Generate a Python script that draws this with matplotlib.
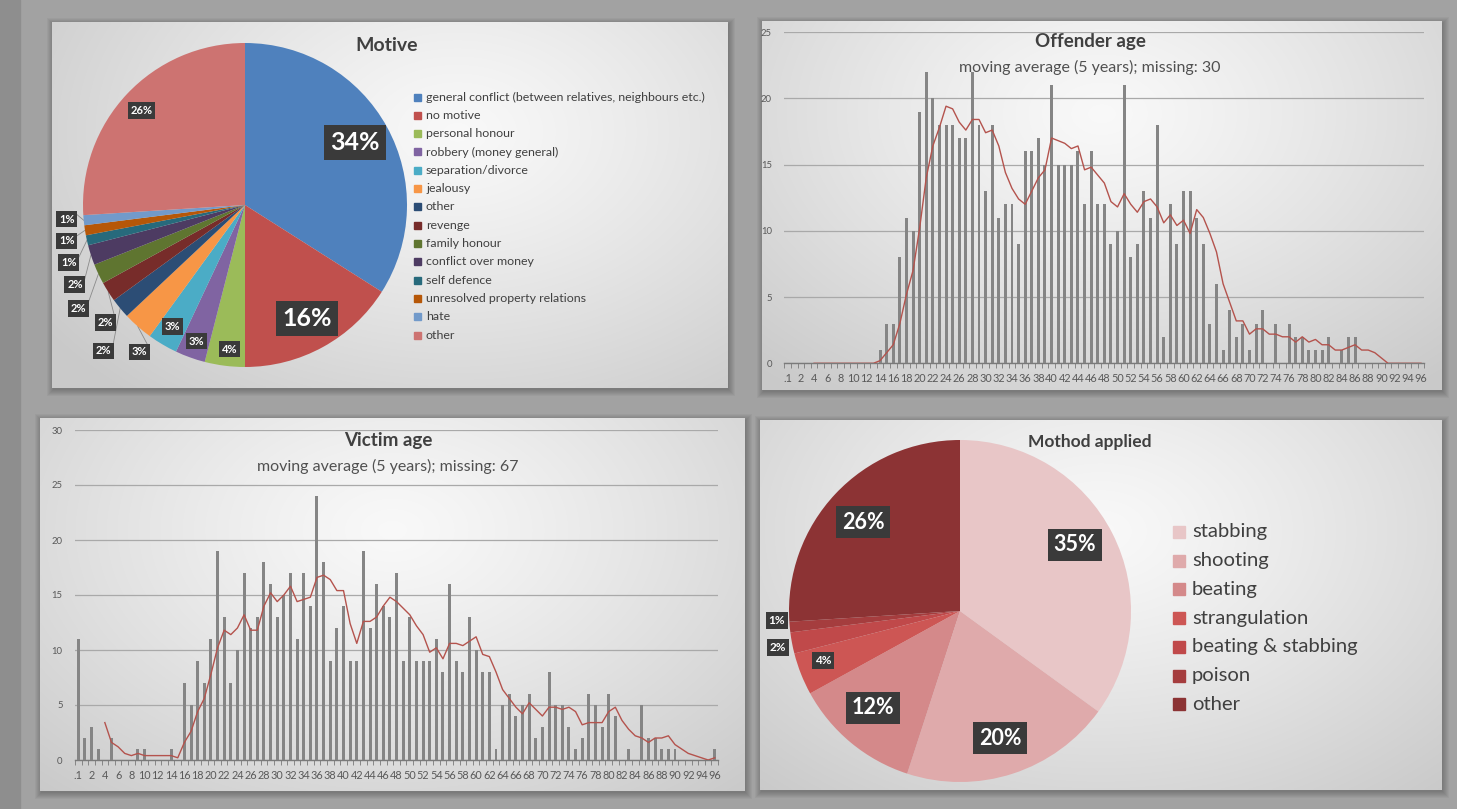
import numpy as np
import pandas as pd
import matplotlib
matplotlib.use("Agg")
import matplotlib.pyplot as plt
from matplotlib.patches import Rectangle

W, H = 1457, 809
plt.rcParams['font.family'] = ['Lato', 'DejaVu Sans']

# ---------------- data ----------------
motive_labels = ["general conflict (between relatives, neighbours etc.)", "no motive",
                 "personal honour", "robbery (money general)", "separation/divorce",
                 "jealousy", "other", "revenge", "family honour", "conflict over money",
                 "self defence", "unresolved property relations", "hate", "other"]
motive_share = [34, 16, 4, 3, 3, 3, 2, 2, 2, 2, 1, 1, 1, 26]
motive_colors = ["#4f81bd", "#c0504d", "#9bbb59", "#8064a2", "#4bacc6", "#f79646",
                 "#2c4d75", "#772c2a", "#5f7530", "#4d3b62", "#276a7c", "#b65708",
                 "#729aca", "#cd7371"]

method_labels = ["stabbing", "shooting", "beating", "strangulation",
                 "beating & stabbing", "poison", "other"]
method_share = [35, 20, 12, 4, 2, 1, 26]
method_colors = ["#e8c6c7", "#dfaaab", "#d4898a", "#cd5654", "#c0494a", "#a53d3e", "#8c3334"]

age_labels = [".1"] + [str(a) for a in range(1, 97)]

offender_counts = [0, 0, 0, 0, 0, 0, 0, 0, 0, 0,
                   0, 0, 0, 0, 1, 3, 3, 8, 11, 10,
                   19, 22, 20, 18, 18, 18, 17, 17, 22, 18,
                   13, 18, 11, 12, 12, 9, 16, 16, 17, 15,
                   21, 15, 15, 15, 16, 12, 16, 12, 12, 9,
                   10, 21, 8, 9, 13, 11, 18, 2, 12, 9,
                   13, 13, 11, 9, 3, 6, 1, 4, 2, 3,
                   1, 3, 4, 0, 3, 0, 3, 2, 2, 1,
                   1, 1, 2, 0, 1, 2, 2, 0, 0, 0,
                   0, 0, 0, 0, 0, 0, 0]

victim_counts = [11, 2, 3, 1, 0, 2, 0, 0, 0, 1,
                 1, 0, 0, 0, 1, 0, 7, 5, 9, 7,
                 11, 19, 13, 7, 10, 17, 12, 13, 18, 16,
                 13, 15, 17, 11, 17, 14, 24, 18, 9, 12,
                 14, 9, 9, 19, 12, 16, 14, 13, 17, 9,
                 13, 9, 9, 9, 11, 8, 16, 9, 8, 13,
                 10, 8, 8, 1, 5, 6, 4, 5, 6, 2,
                 3, 8, 5, 5, 3, 1, 2, 6, 5, 3,
                 6, 4, 0, 1, 0, 5, 2, 2, 1, 1,
                 1, 0, 0, 0, 0, 0, 1]

# label placement (pie units) - layout only
motive_label_xy = [(0.68, 0.385), (0.385, -0.70), (-0.093, -0.89), (-0.30, -0.84),
                   (-0.45, -0.75), (-0.654, -0.907), (-0.876, -0.90), (-0.863, -0.725),
                   (-1.03, -0.64), (-1.05, -0.49), (-1.087, -0.355), (-1.10, -0.222),
                   (-1.10, -0.087), (-0.64, 0.584)]
method_label_xy = [(0.672, 0.386), (0.234, -0.743), (-0.509, -0.567), (-0.80, -0.292),
                   (-1.064, -0.216), (-1.07, -0.058), (-0.567, 0.520)]


def px_rect(x0, y0, x1, y1):
    return [x0 / W, 1 - y1 / H, (x1 - x0) / W, (y1 - y0) / H]


fig = plt.figure(figsize=(W / 100, H / 100), dpi=100, facecolor="#a2a2a2")
canvas = fig.add_axes([0, 0, 1, 1])
canvas.set_xlim(0, W)
canvas.set_ylim(H, 0)
canvas.axis("off")
canvas.set_zorder(0)

# darker strip along the left like the slide border
canvas.add_patch(Rectangle((0, 0), 20, H, color="#8e8e8e", zorder=0))


def panel(x0, y0, x1, y1, cx=0.5, cy=0.3):
    for k in range(7):
        canvas.add_patch(Rectangle((x0 - k + 1, y0 - k + 2), (x1 - x0) + 2 * k, (y1 - y0) + 2 * k,
                                   color="black", alpha=0.035, lw=0, zorder=1))
    yy, xx = np.mgrid[0:1:150j, 0:1:250j]
    d = np.sqrt(((xx - cx) / 0.75) ** 2 + ((yy - cy) / 0.95) ** 2)
    t = np.clip(d, 0, 1) ** 1.2
    light = np.array([0.975, 0.975, 0.975])
    dark = np.array([0.79, 0.79, 0.79])
    img = light + (dark - light) * t[..., None]
    canvas.imshow(img, extent=(x0, x1, y1, y0), aspect="auto", zorder=2,
                  interpolation="bilinear")


panel(52, 22, 728, 388, cx=0.6, cy=0.3)
panel(762, 21, 1442, 390, cx=0.5, cy=0.25)
panel(40, 418, 745, 791, cx=0.5, cy=0.3)
panel(760, 420, 1442, 790, cx=0.5, cy=0.3)
canvas.set_xlim(0, W)
canvas.set_ylim(H, 0)

txt = "#404040"

# ---------------- Motive pie ----------------
cx, cy, R, s = 245, 205, 162, 1.25
ax1 = fig.add_axes(px_rect(cx - s * R, cy - s * R, cx + s * R, cy + s * R))
ax1.set_zorder(2)
wedges, _ = ax1.pie(motive_share, colors=motive_colors, startangle=90, counterclock=False,
                    radius=1, wedgeprops=dict(linewidth=0))
ax1.set_xlim(-s, s)
ax1.set_ylim(-s, s)
ax1.set_aspect("equal")
ax1.axis("off")
cum = np.cumsum([0] + motive_share[:-1])
for i, (v, (lx, ly)) in enumerate(zip(motive_share, motive_label_xy)):
    big = v >= 10 and i < 2
    fs = 18 if big else 8
    ax1.text(lx, ly, f"{v}%", ha="center", va="center", color="white", fontsize=fs,
             fontweight="bold",
             bbox=dict(boxstyle="square,pad=0.25", fc="#3a3a3a", ec="none"))
    if np.hypot(lx, ly) > 1.0:
        th = np.deg2rad(360 * (cum[i] + v / 2) / 100)
        ex, ey = np.sin(th), np.cos(th)
        ax1.plot([lx + 0.06, ex], [ly + 0.03, ey], color="#8a8a8a", lw=0.6, zorder=0)

canvas.text(387, 45, "Motive", ha="center", va="center", fontsize=14, fontweight="bold", color=txt)
for i, (lab, col) in enumerate(zip(motive_labels, motive_colors)):
    y = 97 + i * 18.33
    canvas.add_patch(Rectangle((414, y - 3.5), 7, 7, color=col, zorder=5))
    canvas.text(426, y, lab, ha="left", va="center", fontsize=8.9, color=txt, zorder=5)

# ---------------- Method pie ----------------
cx, cy, R = 960, 611, 171
ax4 = fig.add_axes(px_rect(cx - s * R, cy - s * R, cx + s * R, cy + s * R))
ax4.set_zorder(2)
ax4.pie(method_share, colors=method_colors, startangle=90, counterclock=False,
        radius=1, wedgeprops=dict(linewidth=0))
ax4.set_xlim(-s, s)
ax4.set_ylim(-s, s)
ax4.set_aspect("equal")
ax4.axis("off")
for v, (lx, ly) in zip(method_share, method_label_xy):
    fs = 15.5 if v >= 10 else 8.5
    ax4.text(lx, ly, f"{v}%", ha="center", va="center", color="white", fontsize=fs,
             fontweight="bold",
             bbox=dict(boxstyle="square,pad=0.25", fc="#3a3a3a", ec="none"))

canvas.text(1090, 442, "Mothod applied", ha="center", va="center", fontsize=12.5,
            fontweight="bold", color=txt)
for i, (lab, col) in enumerate(zip(method_labels, method_colors)):
    y = 532 + i * 28.7
    canvas.add_patch(Rectangle((1173, y - 6), 12, 12, color=col, zorder=5))
    canvas.text(1192, y, lab, ha="left", va="center", fontsize=14.6, color=txt, zorder=5)


# ---------------- age histograms ----------------
def age_chart(rect, counts, ymax, title, missing, tx, ty):
    ax = fig.add_axes(px_rect(*rect))
    ax.set_zorder(2)
    ax.patch.set_alpha(0)
    x = np.arange(len(counts))
    ax.bar(x, counts, width=0.45, color="#858585", zorder=3)
    ma = pd.Series(counts).rolling(5).mean()
    ax.plot(x, ma, color="#b4534d", lw=1.0, zorder=4)
    ax.set_xlim(-0.5, len(counts) - 0.5)
    ax.set_ylim(0, ymax)
    ax.set_yticks(np.arange(0, ymax + 1, 5))
    ax.yaxis.grid(True, color="#a9a9a9", lw=0.9)
    ax.set_axisbelow(True)
    for sp in ["top", "right", "left"]:
        ax.spines[sp].set_visible(False)
    ax.spines["bottom"].set_color("#7a7a7a")
    ax.spines["bottom"].set_linewidth(1.0)
    ax.set_xticks(x[::2])
    ax.set_xticklabels(age_labels[::2])
    ax.set_xticks(np.arange(-0.5, len(counts), 1), minor=True)
    ax.tick_params(axis="x", which="major", length=0, pad=7, labelsize=7.8, labelcolor="#595959")
    ax.tick_params(axis="x", which="minor", length=3.5, color="#7a7a7a", direction="out")
    ax.tick_params(axis="y", length=0, pad=9, labelsize=6.8, labelcolor="#595959")
    canvas.text(tx, ty, title, ha="center", va="center", fontsize=13.5, fontweight="bold", color=txt)
    canvas.text(tx, ty + 26, f"moving average (5 years); missing: {missing}", ha="center",
                va="center", fontsize=11.5, color="#505050")
    return ax


age_chart((784.4, 32, 1424.3, 363.3), offender_counts, 25, "Offender age", 30, 1090, 41)
age_chart((75, 430, 718.1, 760), victim_counts, 30, "Victim age", 67, 388, 440)

fig.savefig("out.png", dpi=100, facecolor=fig.get_facecolor())
